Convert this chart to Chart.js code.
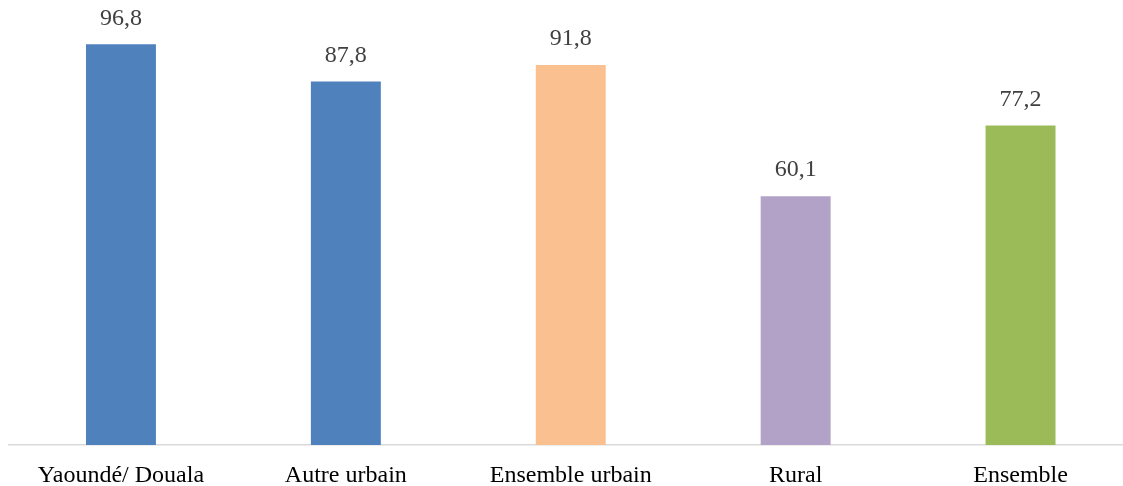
<!DOCTYPE html>
<html>
<head>
<meta charset="utf-8">
<script src="https://cdn.jsdelivr.net/npm/chart.js@4/dist/chart.umd.min.js"></script>
<style>
  html, body { margin: 0; padding: 0; background: #fff; overflow: hidden; }
  #wrap { width: 1133px; height: 486px; }
</style>
</head>
<body>
<div id="wrap"><canvas id="chartMilieu"></canvas></div>
<script>
const categories = ['Yaoundé/ Douala', 'Autre urbain', 'Ensemble urbain', 'Rural', 'Ensemble'];
const values = [96.8, 87.8, 91.8, 60.1, 77.2];
const barColors = ['#4f81bd', '#4f81bd', '#fac090', '#b3a2c7', '#9bbb59'];

// petites étiquettes au-dessus des barres (virgule décimale)
const valueLabels = {
  id: 'valueLabels',
  afterDatasetsDraw(chart) {
    const ctx = chart.ctx;
    const meta = chart.getDatasetMeta(0);
    ctx.save();
    ctx.font = '24px "Liberation Serif", "Times New Roman", serif';
    ctx.fillStyle = '#404040';
    ctx.textAlign = 'center';
    ctx.textBaseline = 'middle';
    meta.data.forEach((bar, i) => {
      ctx.fillText(values[i].toFixed(1).replace('.', ','), bar.x, bar.y - 26);
    });
    ctx.restore();
  }
};

const ctx = document.getElementById('chartMilieu');

new Chart(ctx, {
  type: 'bar',
  data: {
    labels: categories,
    datasets: [{
      data: values,
      backgroundColor: barColors,
      categoryPercentage: 1,
      barPercentage: 0.311
    }]
  },
  options: {
    responsive: true,
    maintainAspectRatio: false,
    animation: false,
    layout: { padding: { left: 8.5, right: 0, top: 31, bottom: 0 } },
    plugins: {
      legend: { display: false },
      tooltip: { enabled: false }
    },
    scales: {
      y: {
        display: false,
        min: 0,
        max: 100
      },
      x: {
        grid: { display: false },
        border: { color: '#d9d9d9', width: 1.5 },
        afterFit(scale) { scale.height = 41; },
        ticks: {
          color: '#000',
          padding: 8,
          font: { family: '"Liberation Serif", "Times New Roman", serif', size: 24 }
        }
      }
    }
  },
  plugins: [valueLabels]
});
</script>
</body>
</html>
